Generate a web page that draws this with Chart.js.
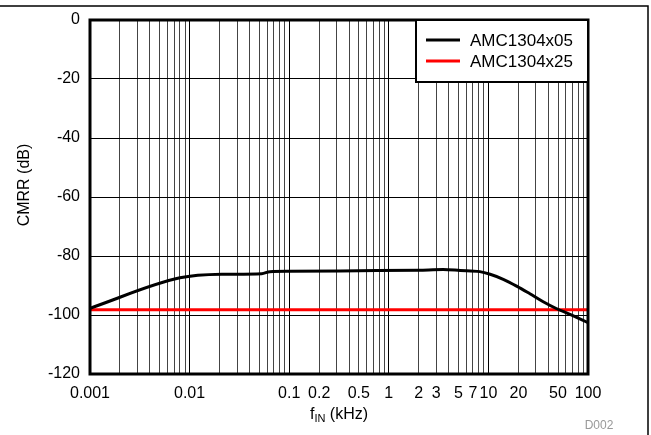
<!DOCTYPE html>
<html>
<head>
<meta charset="utf-8">
<script src="https://cdn.jsdelivr.net/npm/chart.js@4.4.1/dist/chart.umd.min.js"></script>
<style>
  html, body { margin: 0; padding: 0; background: #fff; }
  #wrap { width: 651px; height: 435px; position: relative; }
</style>
</head>
<body>
<div id="wrap"><canvas id="myChart" width="651" height="435"></canvas></div>
<script>
// frecuencias en kHz
const freqKHz = [0.001, 0.008, 0.021, 0.053, 0.064, 0.1, 0.5, 2, 3.5, 5.2, 8.2, 10.4, 14.1, 19.2, 26.1, 35.5, 48, 66, 100];
const cmrrX05 = [-97.7, -87.4, -86.2, -86.0, -85.3, -85.2, -85.0, -84.8, -84.6, -84.9, -85.3, -86.2, -87.9, -90.2, -92.8, -95.5, -97.8, -99.8, -102.6];
const freqX25 = [0.001, 100];
const cmrrX25 = [-98.2, -98.2];

const xTickLabels = [0.001, 0.01, 0.1, 0.2, 0.5, 1, 2, 3, 5, 7, 10, 20, 50, 100];
const yTicks = [0, -20, -40, -60, -80, -100, -120];
const seriesNames = ["AMC1304x05", "AMC1304x25"];
const seriesColors = ["#000000", "#ff0000"];

const FONT = "'Liberation Sans', Arial, Helvetica, sans-serif";

const toPoints = (xs, ys) => xs.map((x, i) => ({ x: x, y: ys[i] }));

const extrasPlugin = {
  id: "extras",
  afterDraw(chart) {
    const { ctx, chartArea } = chart;
    ctx.save();

    // marco exterior (solo arriba y derecha)
    ctx.strokeStyle = "#000";
    ctx.lineWidth = 1.5;
    ctx.beginPath();
    ctx.moveTo(0, 6);
    ctx.lineTo(648, 6);
    ctx.lineTo(648, 435);
    ctx.stroke();

    // borde grueso del area
    ctx.lineWidth = 3;
    ctx.strokeRect(chartArea.left, chartArea.top, chartArea.right - chartArea.left, chartArea.bottom - chartArea.top);

    // leyenda
    const lx = 416, ly = 20, lw = chartArea.right - 416, lh = 62;
    ctx.fillStyle = "#fff";
    ctx.fillRect(lx, ly, lw, lh);
    ctx.lineWidth = 2;
    ctx.strokeRect(lx, ly, lw, lh);
    ctx.lineWidth = 3;
    ctx.font = "17px " + FONT;
    ctx.textBaseline = "middle";
    seriesNames.forEach((name, i) => {
      const yy = 40 + i * 21;
      ctx.strokeStyle = seriesColors[i];
      ctx.beginPath();
      ctx.moveTo(426, yy);
      ctx.lineTo(460, yy);
      ctx.stroke();
      ctx.fillStyle = "#000";
      ctx.fillText(name, 470, yy + 1);
    });

    // titulo eje y
    ctx.save();
    ctx.translate(25, 185);
    ctx.rotate(-Math.PI / 2);
    ctx.fillStyle = "#000";
    ctx.font = "16px " + FONT;
    ctx.textAlign = "center";
    ctx.textBaseline = "middle";
    ctx.fillText("CMRR (dB)", 0, 0);
    ctx.restore();

    // titulo eje x con subindice
    const cx = (chartArea.left + chartArea.right) / 2;
    ctx.fillStyle = "#000";
    ctx.textBaseline = "alphabetic";
    ctx.font = "16px " + FONT;
    const wF = ctx.measureText("f").width;
    ctx.font = "11px " + FONT;
    const wIN = ctx.measureText("IN").width;
    ctx.font = "16px " + FONT;
    const wRest = ctx.measureText(" (kHz)").width;
    let x0 = cx - (wF + wIN + wRest) / 2;
    const base = 419;
    ctx.fillText("f", x0, base);
    ctx.font = "11px " + FONT;
    ctx.fillText("IN", x0 + wF, base + 3);
    ctx.font = "16px " + FONT;
    ctx.fillText(" (kHz)", x0 + wF + wIN, base);

    // codigo de figura
    ctx.fillStyle = "#999";
    ctx.font = "12px " + FONT;
    ctx.textAlign = "center";
    ctx.fillText("D002", 599, 429);

    ctx.restore();
  },
};

const ctx = document.getElementById("myChart");

const cfg = {
  type: "line",
  data: {
    datasets: [
      {
        label: seriesNames[0],
        data: toPoints(freqKHz, cmrrX05),
        borderColor: seriesColors[0],
        borderWidth: 3,
        pointRadius: 0,
        cubicInterpolationMode: "monotone",
      },
      {
        label: seriesNames[1],
        data: toPoints(freqX25, cmrrX25),
        borderColor: seriesColors[1],
        borderWidth: 3,
        pointRadius: 0,
      },
    ],
  },
  options: {
    responsive: false,
    animation: false,
    layout: { padding: { left: 0, top: 20, right: 63, bottom: 0 } },
    plugins: {
      legend: { display: false },
      tooltip: { enabled: false },
    },
    scales: {
      x: {
        type: "logarithmic",
        min: 0.001,
        max: 100,
        afterFit: (s) => { s.height = 61; },
        afterBuildTicks: (s) => {
          const t = [];
          for (let e = -3; e <= 2; e++) {
            for (let m = 1; m <= 9; m++) {
              const v = parseFloat((m * Math.pow(10, e)).toPrecision(3));
              if (v <= 100) t.push({ value: v, major: m === 1 });
            }
          }
          s.ticks = t;
        },
        grid: {
          color: (c) => (c.tick && c.tick.major ? "#000" : "#444"),
          lineWidth: 1,
          drawTicks: false,
        },
        border: { display: false },
        ticks: {
          autoSkip: false,
          maxRotation: 0,
          padding: 10,
          color: "#000",
          font: { family: FONT, size: 16 },
          callback: (v) => (xTickLabels.includes(parseFloat(Number(v).toPrecision(3))) ? String(parseFloat(Number(v).toPrecision(3))) : ""),
        },
      },
      y: {
        min: -120,
        max: 0,
        afterFit: (s) => { s.width = 90; },
        afterBuildTicks: (s) => { s.ticks = yTicks.map((v) => ({ value: v })); },
        grid: { color: "#000", lineWidth: 1, drawTicks: false },
        border: { display: false },
        ticks: {
          padding: 10,
          color: "#000",
          font: { family: FONT, size: 16 },
        },
      },
    },
  },
  plugins: [extrasPlugin],
};

const myChart = new Chart(ctx, cfg);
</script>
</body>
</html>
